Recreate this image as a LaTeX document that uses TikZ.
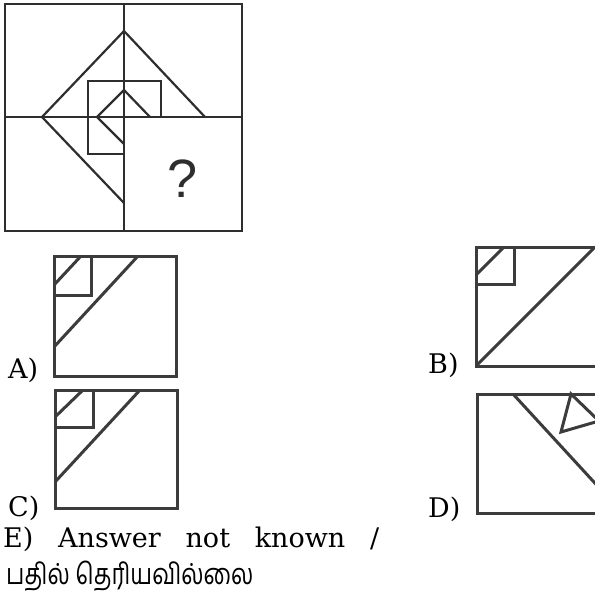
\documentclass[tikz,border=0pt]{standalone}
\usepackage{fontspec}
\setmainfont{DejaVu Serif}
\newfontfamily\qfont{Liberation Sans}
\newfontfamily\tamilfont[Script=Tamil]{Hind Madurai}
\definecolor{figline}{HTML}{2E2E2E}
\definecolor{optline}{HTML}{3C3C3C}

\begin{document}
\begin{tikzpicture}[x=1pt, y=-1pt,
    fig/.style={figline, line width=2.2pt},
    opt/.style={optline, line width=3pt},
    lbl/.style={anchor=base west, inner sep=0pt, font=\fontsize{27}{30}\selectfont}]
    \useasboundingbox (0, 0) rectangle (595, 594);

    % Question figure
    \draw[fig] (5, 4) rectangle (242, 231);
    \draw[fig] (124, 4) -- (124, 231);
    \draw[fig] (5, 117) -- (242, 117);
    \draw[fig] (205, 117) -- (124, 31) -- (42, 117) -- (124, 203);
    \draw[fig] (161, 117) -- (161, 81) -- (88, 81) -- (88, 154) -- (124, 154);
    \draw[fig] (150, 117) -- (124, 90) -- (97, 117) -- (124, 144);
    \node[anchor=base, inner sep=0pt, font=\qfont\fontsize{54}{60}\selectfont, figline] (qmark) at (183, 197) {?};

    % Option A
    \draw[opt] (54, 256) rectangle (176, 376);
    \draw[opt] (54, 256) rectangle (91, 295);
    \draw[opt] (54, 285) -- (81, 256);
    \draw[opt] (54, 347) -- (138, 256);
    \node[lbl] (labA) at (8, 378) {A)};

    % Option B (cut at the right edge)
    \begin{scope}
        \clip (400, 240) rectangle (595, 530);
        \draw[opt] (476, 247) rectangle (601, 366);
        \draw[opt] (476, 247) rectangle (514, 284);
        \draw[opt] (476, 275) -- (504, 247);
        \draw[opt] (476, 366) -- (595, 247);

        % Option D
        \draw[opt] (477, 394) rectangle (602, 513);
        \draw[opt] (513, 394) -- (604, 493);
        \draw[opt] (571, 394) -- (561, 432) -- (599, 421) -- cycle;
    \end{scope}
    \node[lbl] (labB) at (428, 373) {B)};
    \node[lbl] (labD) at (428, 517) {D)};

    % Option C
    \draw[opt] (55, 390) rectangle (177, 508);
    \draw[opt] (55, 390) rectangle (93, 427);
    \draw[opt] (55, 417) -- (83, 390);
    \draw[opt] (55, 482) -- (140, 390);
    \node[lbl] (labC) at (8, 516) {C)};

    % Option E
    \node[lbl] (labE) at (3, 547) {\makebox[376pt][s]{E) Answer not known /}};
    \node[anchor=base west, inner sep=0pt, font=\tamilfont\fontsize{29}{32}\selectfont] (tamil) at (6, 584) {\scalebox{0.8}[1]{பதில் தெரியவில்லை}};
\end{tikzpicture}
\end{document}
